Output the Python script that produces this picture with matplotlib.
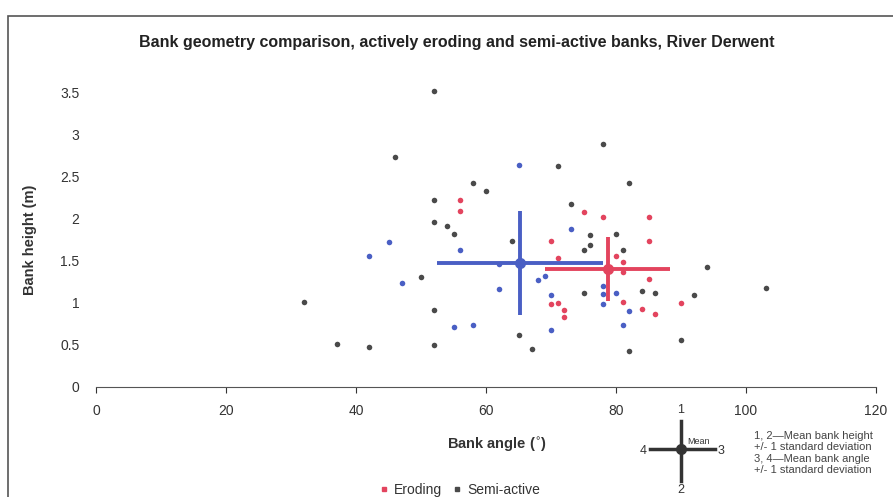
import numpy as np
import matplotlib
matplotlib.use("Agg")
import matplotlib.pyplot as plt
from matplotlib.patches import Rectangle
from matplotlib.lines import Line2D

plt.rcParams['font.family'] = ['Liberation Sans', 'DejaVu Sans']

# eroding banks (red)
ero_x = [56, 56, 75, 78, 85, 70, 85, 80, 71, 81, 81, 85, 70, 71, 81, 72, 72, 84, 86, 90]
ero_y = [2.22, 2.09, 2.08, 2.02, 2.02, 1.73, 1.73, 1.56, 1.53, 1.48, 1.36, 1.28, 0.98, 1.0, 1.01, 0.91, 0.83, 0.92, 0.87, 1.0]

# semi-active banks, blue points
blu_x = [65, 56, 45, 42, 47, 73, 62, 68, 69, 62, 80, 70, 78, 78, 78, 82, 70, 81, 55, 58]
blu_y = [2.63, 1.62, 1.72, 1.56, 1.23, 1.88, 1.46, 1.27, 1.32, 1.16, 1.12, 1.09, 1.2, 1.1, 0.99, 0.90, 0.68, 0.74, 0.71, 0.74]

# semi-active banks, grey points
gry_x = [52, 46, 58, 52, 52, 54, 55, 60, 50, 32, 52, 37, 42, 52, 78, 71, 82, 73, 80, 76,
         64, 76, 75, 81, 75, 84, 86, 92, 94, 103, 65, 90, 67, 82]
gry_y = [3.51, 2.73, 2.42, 2.22, 1.96, 1.91, 1.81, 2.32, 1.30, 1.01, 0.91, 0.51, 0.47, 0.50,
         2.88, 2.62, 2.42, 2.17, 1.82, 1.80, 1.73, 1.68, 1.63, 1.63, 1.12, 1.14, 1.12, 1.09,
         1.42, 1.18, 0.62, 0.56, 0.45, 0.43]

# means +/- 1 sd
mean_x = [65.2, 78.7]
mean_y = [1.47, 1.40]
sd_x = [12.8, 9.6]
sd_y = [0.62, 0.375]

red = '#e3445e'
blue = '#4a5fc4'
grey = '#4a4a4a'

fig = plt.figure(figsize=(8.93, 4.97), dpi=100)
fig.patches.append(Rectangle((8 / 893, -0.1), 1.0, 1 - 16 / 497 + 0.1,
                             transform=fig.transFigure, fill=False,
                             edgecolor='#555555', lw=1.2))

ax = fig.add_axes([96 / 893, 1 - 387 / 497, 780 / 893, 295 / 497])
ax.scatter(gry_x, gry_y, s=16, color=grey, zorder=3, linewidths=0, clip_on=False)
ax.scatter(blu_x, blu_y, s=16, color=blue, zorder=3, linewidths=0, clip_on=False)
ax.scatter(ero_x, ero_y, s=16, color=red, zorder=3, linewidths=0, clip_on=False)

ax.errorbar(mean_x[0], mean_y[0], xerr=sd_x[0], yerr=sd_y[0], fmt='o', color=blue,
            ms=7, elinewidth=2.8, capsize=0, zorder=4)
ax.errorbar(mean_x[1], mean_y[1], xerr=sd_x[1], yerr=sd_y[1], fmt='o', color=red,
            ms=7, elinewidth=2.8, capsize=0, zorder=4)

ax.set_xlim(0, 120)
ax.set_ylim(0, 3.5)
ax.set_xticks(np.arange(0, 121, 20))
ax.set_yticks(np.arange(0, 3.51, 0.5))
ax.set_yticklabels(['0', '0.5', '1', '1.5', '2', '2.5', '3', '3.5'])
for s in ['top', 'right', 'left']:
    ax.spines[s].set_visible(False)
ax.spines['bottom'].set_color('#555555')
ax.tick_params(axis='both', labelsize=10, colors='#333333', length=4, direction='out')
ax.tick_params(axis='y', length=0, pad=12)
ax.tick_params(axis='x', pad=8)

fig.text(457 / 893, 1 - 42 / 497, 'Bank geometry comparison, actively eroding and semi-active banks, River Derwent',
         ha='center', va='center', fontsize=11.5, fontweight='bold', color='#222222')
fig.text(30 / 893, 1 - 240 / 497, 'Bank height (m)', rotation=90, ha='center', va='center',
         fontsize=10.5, fontweight='bold', color='#333333')
fig.text(497 / 893, 1 - 445 / 497, 'Bank angle ($^{\\circ}$)', ha='center', va='center',
         fontsize=10.5, fontweight='bold', color='#333333')

# legend
handles = [Line2D([], [], ls='', marker='s', ms=3, color=red),
           Line2D([], [], ls='', marker='s', ms=3, color=grey)]
fig.legend(handles, ['Eroding', 'Semi-active'], loc='center', bbox_to_anchor=(460 / 893, 1 - 490 / 497),
           ncol=2, frameon=False, fontsize=10, handlelength=0.6, handletextpad=0.4,
           columnspacing=0.8, labelcolor='#333333')

# key schematic
cx, cy = 681 / 893, 1 - 449 / 497
fig.add_artist(Line2D([650 / 893, 715 / 893], [cy, cy], color='#333333', lw=2.5, transform=fig.transFigure))
fig.add_artist(Line2D([cx, cx], [1 - 421 / 497, 1 - 481 / 497], color='#333333', lw=2.5, transform=fig.transFigure))
fig.add_artist(Line2D([cx], [cy], marker='o', ms=7, color='#333333', transform=fig.transFigure))
fig.text(cx, 1 - 410 / 497, '1', ha='center', va='center', fontsize=9, color='#333333')
fig.text(cx, 1 - 490 / 497, '2', ha='center', va='center', fontsize=9, color='#333333')
fig.text(721 / 893, 1 - 451 / 497, '3', ha='center', va='center', fontsize=9, color='#333333')
fig.text(643 / 893, 1 - 451 / 497, '4', ha='center', va='center', fontsize=9, color='#333333')
fig.text(687 / 893, 1 - 442 / 497, 'Mean', ha='left', va='center', fontsize=6.5, color='#333333')
fig.text(754 / 893, 1 - 453 / 497,
         '1, 2\u2014Mean bank height\n+/- 1 standard deviation\n3, 4\u2014Mean bank angle\n+/- 1 standard deviation',
         ha='left', va='center', fontsize=8, color='#444444', linespacing=1.2)

fig.savefig('out.png', dpi=100)
